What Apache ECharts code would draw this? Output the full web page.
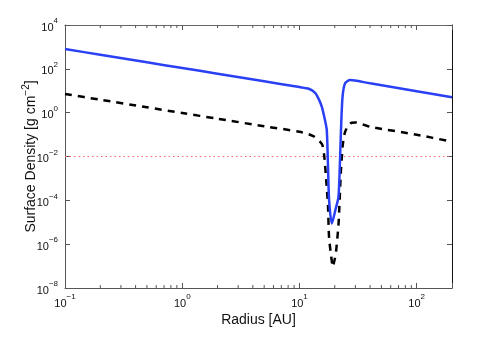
<!DOCTYPE html>
<html>
<head>
<meta charset="utf-8">
<script src="https://cdn.jsdelivr.net/npm/echarts@6/dist/echarts.min.js"></script>
<style>
  html, body { margin: 0; padding: 0; background: #fff; }
  #chart { width: 498px; height: 338px; }
</style>
</head>
<body>
<div id="chart"></div>
<script>
  // values (radius in AU, surface density in g cm^-2)
  const gasRadius = [0.1, 0.2, 0.5, 1, 2, 5, 10, 12, 13.6, 14.5, 15.5, 16.5, 17.1, 17.5, 17.9, 18.9, 20.4, 21.5, 22.1, 22.6, 23.3, 24.5, 27, 29.8, 40, 100, 200]
  const gasSigma = [800, 440, 198, 109, 60, 27, 14.7, 12.3, 8, 4.5, 1.9, 0.46, 0.16, 4.1e-3, 1e-4, 8.8e-6, 4.3e-5, 1.4e-4, 4.1e-3, 0.16, 5.2, 21.8, 30.8, 29.2, 21.8, 9.4, 5.0]

  const dustRadius = [0.1, 0.2, 0.5, 1, 2, 5, 10, 13.1, 15.0, 15.7, 16.3, 16.9, 17.5, 17.9, 18.9, 19.2, 19.9, 20.5, 21.5, 21.9, 22.5, 23.0, 23.3, 24.5, 27, 29.8, 40, 100, 200]
  const dustSigma = [7.1, 3.9, 1.76, 0.96, 0.53, 0.24, 0.134, 0.086, 0.047, 0.033, 9.7e-3, 8.4e-4, 6e-5, 1.9e-6, 1.56e-7, 9.2e-8, 1.86e-7, 4.4e-7, 7.4e-6, 5e-5, 1.7e-3, 9.7e-3, 0.028, 0.134, 0.32, 0.36, 0.227, 0.099, 0.047]

  const thresholdRadius = [0.1, 200]
  const thresholdSigma = [0.01, 0.01]

  const xMinorTicks = [0.2, 0.3, 0.4, 0.5, 0.6, 0.7, 0.8, 0.9, 2, 3, 4, 5, 6, 7, 8, 9, 20, 30, 40, 50, 60, 70, 80, 90]

  const FONT = "'Liberation Sans', Arial, sans-serif"
  const xMin = -1
  const xMax = Math.log10(200)
  const yMin = -8
  const yMax = 4

  const toLog = (r, s) => r.map((v, i) => [Math.log10(v), Math.log10(s[i])])

  // base "10" sits at the bottom of the line box, exponent at the top
  const rich = {
    b: { fontSize: 11, fontFamily: FONT, color: "#111", lineHeight: 16, verticalAlign: "bottom" },
    s: { fontSize: 8, fontFamily: FONT, color: "#111", verticalAlign: "top" }
  }
  const powLabel = v => {
    const e = Math.round(v)
    if (Math.abs(v - e) > 1e-6) return ""
    return `{b|10}{s|${e < 0 ? "\u2212" + (-e) : e}}`
  }

  function minorTickItem(params, api) {
    const x = api.value(0)
    const bottom = api.coord([x, yMin])
    const top = api.coord([x, yMax])
    const style = { stroke: "#555", lineWidth: 1 }
    return {
      type: "group",
      children: [
        { type: "line", shape: { x1: bottom[0], y1: bottom[1], x2: bottom[0], y2: bottom[1] - 3 }, style },
        { type: "line", shape: { x1: top[0], y1: top[1], x2: top[0], y2: top[1] + 3 }, style }
      ]
    }
  }

  const chart = echarts.init(document.getElementById("chart"), null, { renderer: "canvas" })

  const tickStyle = { inside: true, length: 5, lineStyle: { color: "#555" } }

  chart.setOption({
    backgroundColor: "#ffffff",
    animation: false,
    grid: { left: 65, right: 46, top: 25, bottom: 50, containLabel: false },
    xAxis: [
      {
        type: "value",
        min: xMin,
        max: xMax,
        interval: 1,
        position: "bottom",
        name: "Radius [AU]",
        nameLocation: "middle",
        nameGap: 25,
        nameMoveOverlap: false,
        nameTextStyle: { fontSize: 14, fontFamily: FONT, color: "#111" },
        axisLine: { onZero: false, lineStyle: { color: "#555", width: 1 } },
        axisTick: tickStyle,
        axisLabel: { margin: 5, formatter: powLabel, rich },
        splitLine: { show: false }
      },
      {
        type: "value",
        min: xMin,
        max: xMax,
        interval: 1,
        position: "top",
        axisLine: { onZero: false, lineStyle: { color: "#666", width: 1 } },
        axisTick: tickStyle,
        axisLabel: { show: false },
        splitLine: { show: false }
      }
    ],
    yAxis: [
      {
        type: "value",
        min: yMin,
        max: yMax,
        interval: 2,
        position: "left",
        name: "{a|Surface Density [g cm}{s|\u22122}{a|]}",
        nameLocation: "middle",
        nameGap: 27,
        nameMoveOverlap: false,
        nameRotate: 90,
        nameTextStyle: {
          rich: {
            a: { fontSize: 14, fontFamily: FONT, color: "#111", lineHeight: 17, verticalAlign: "bottom" },
            s: { fontSize: 10, fontFamily: FONT, color: "#111", verticalAlign: "top" }
          }
        },
        axisLine: { show: true, onZero: false, lineStyle: { color: "#555", width: 1 } },
        axisTick: { show: true, ...tickStyle },
        axisLabel: { margin: 7, formatter: powLabel, rich },
        splitLine: { show: false }
      },
      {
        type: "value",
        min: yMin,
        max: yMax,
        interval: 2,
        position: "right",
        axisLine: { show: true, onZero: false, lineStyle: { color: "#111", width: 1 } },
        axisTick: { show: true, ...tickStyle },
        axisLabel: { show: false },
        splitLine: { show: false }
      }
    ],
    series: [
      {
        type: "custom",
        silent: true,
        renderItem: minorTickItem,
        data: xMinorTicks.map(v => [Math.log10(v)]),
        clip: false,
        z: 1
      },
      {
        name: "threshold",
        type: "line",
        data: toLog(thresholdRadius, thresholdSigma),
        showSymbol: false,
        lineStyle: { color: "#ff6a6a", width: 1, type: [1.5, 3] },
        z: 2
      },
      {
        name: "dust",
        type: "line",
        data: toLog(dustRadius, dustSigma),
        showSymbol: false,
        smooth: 0.25,
        lineStyle: { color: "#000", width: 2.5, type: [7, 6] },
        z: 3
      },
      {
        name: "gas",
        type: "line",
        data: toLog(gasRadius, gasSigma),
        showSymbol: false,
        smooth: 0.25,
        lineStyle: { color: "#2a40f5", width: 2.5 },
        z: 4
      }
    ]
  })
</script>
</body>
</html>
